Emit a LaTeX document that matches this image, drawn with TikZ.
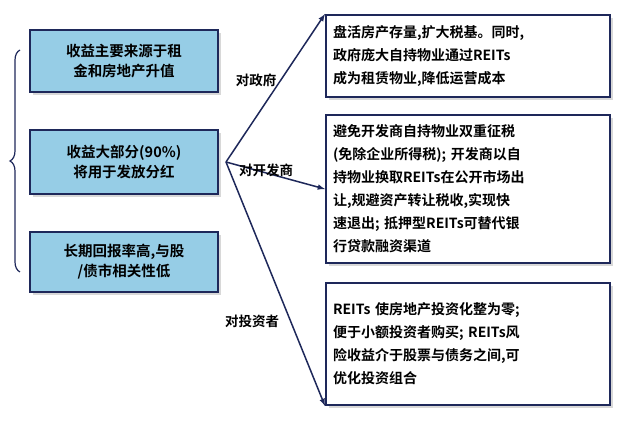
\documentclass[tikz,border=0pt]{standalone}
\usepackage{fontspec}
\setmainfont{Noto Sans CJK SC}[BoldFont={Noto Sans CJK SC Bold}]
\usetikzlibrary{shadows,decorations.pathreplacing}
\definecolor{navy}{RGB}{30,40,90}
\definecolor{lblue}{RGB}{150,205,230}
\tikzset{
  srcbox/.style={draw=navy,line width=1.6pt,fill=lblue,minimum width=188pt,align=center,
    font=\fontsize{14.5}{20}\selectfont\bfseries,drop shadow={shadow xshift=3pt,shadow yshift=-3pt,fill=gray!60}},
  effbox/.style={draw=navy,line width=2pt,fill=white,minimum width=284pt,text width=270pt,align=left,inner xsep=7pt,
    font=\fontsize{14}{23}\selectfont\bfseries,drop shadow={shadow xshift=3pt,shadow yshift=-3pt,fill=gray!60}},
  arr/.style={-latex,line width=1.5pt,navy},
  lab/.style={font=\fontsize{13.5}{16}\selectfont\bfseries}
}
\begin{document}
\begin{tikzpicture}[x=1pt,y=-1pt]
\useasboundingbox (0,0) rectangle (622,430);
% left boxes
\node[srcbox,minimum height=62pt] (s1) at (124,61) {收益主要来源于租\\金和房地产升值};
\node[srcbox,minimum height=64pt] (s2) at (124,162) {收益大部分(90\%)\\将用于发放分红};
\node[srcbox,minimum height=60pt] (s3) at (124,262) {长期回报率高,与股\\/债市相关性低};
\draw[navy,line width=1.2pt,decorate,decoration={brace,amplitude=10pt}] (20,272) -- (20,50);
% right boxes
\node[effbox,minimum height=82pt] (r1) at (468,56) {盘活房产存量,扩大税基。同时,\\政府庞大自持物业通过REITs\\成为租赁物业,降低运营成本};
\node[effbox,minimum height=148pt] (r2) at (468,189) {避免开发商自持物业双重征税\\(免除企业所得税); 开发商以自\\持物业换取REITs在公开市场出\\让,规避资产转让税收,实现快\\速退出; 抵押型REITs可替代银\\行贷款融资渠道};
\node[effbox,minimum height=122pt] (r3) at (468,344) {REITs 使房地产投资化整为零;\\便于小额投资者购买; REITs风\\险收益介于股票与债务之间,可\\优化投资组合};
% connectors
\coordinate (o) at (226,162);
\draw[arr] (o) -- (r1.north west);
\draw[arr] (o) -- (r2.west);
\draw[arr] (o) -- (r3.south west);
\node[lab] (l1) at (256,80) {对政府};
\node[lab] (l2) at (266,170) {对开发商};
\node[lab] (l3) at (252,321) {对投资者};
\end{tikzpicture}
\end{document}
